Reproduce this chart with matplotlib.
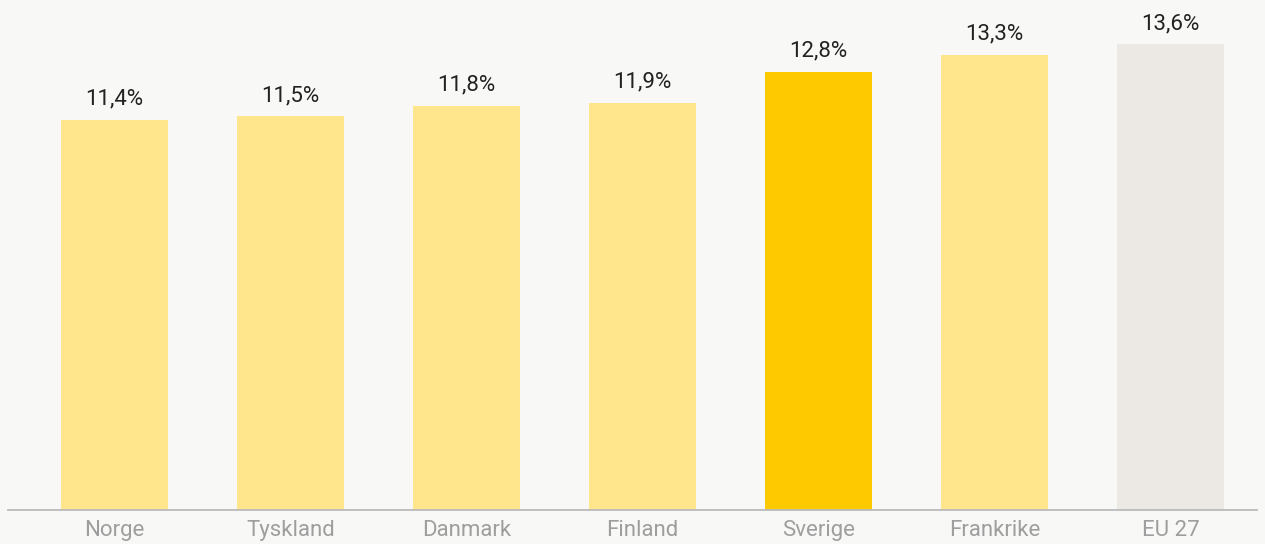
import matplotlib.pyplot as plt

plt.rcParams['font.family'] = ['Roboto', 'DejaVu Sans']

countries = ['Norge', 'Tyskland', 'Danmark', 'Finland', 'Sverige', 'Frankrike', 'EU 27']
values = [11.4, 11.5, 11.8, 11.9, 12.8, 13.3, 13.6]
colors = ['#FFE58C', '#FFE58C', '#FFE58C', '#FFE58C', '#FFC900', '#FFE58C', '#ECE9E4']

bg = '#F8F8F7'
fig = plt.figure(figsize=(12.65, 5.44), dpi=100, facecolor=bg)
ax = fig.add_axes([8 / 1265, 34 / 544, 1249 / 1265, 510 / 544], facecolor=bg)

x = range(len(countries))
ax.bar(x, values, width=0.608, color=colors)

for i, v in zip(x, values):
    ax.text(i, v + 0.30, f'{v:.1f}%'.replace('.', ','), ha='center', va='bottom',
            fontsize=16, color='#222222')

ax.set_xlim(-0.605, 6.49)
ax.set_ylim(0, 14.9)
ax.set_xticks(list(x))
ax.set_xticklabels(countries, fontsize=16, color='#9E9E9E')
ax.tick_params(axis='x', length=0, pad=7)
ax.set_yticks([])
for s in ['top', 'left', 'right']:
    ax.spines[s].set_visible(False)
ax.spines['bottom'].set_color('#BBBBBB')
ax.spines['bottom'].set_linewidth(1.3)

fig.savefig('out.png', dpi=100, facecolor=bg)
